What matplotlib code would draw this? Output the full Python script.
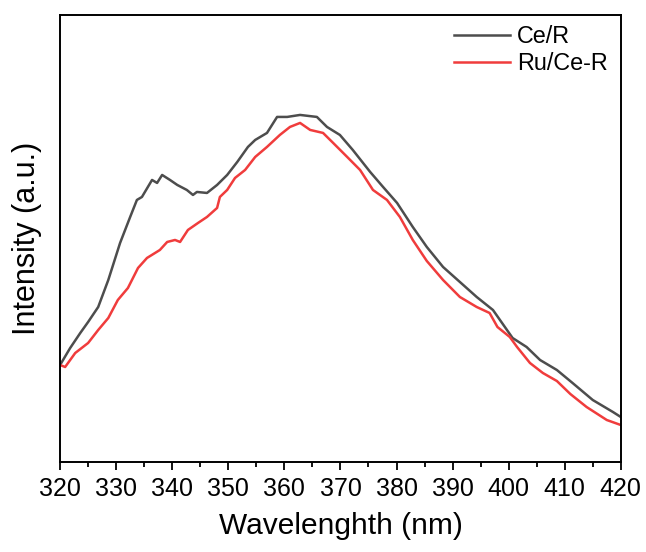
import numpy as np
import matplotlib.pyplot as plt
from matplotlib.ticker import MultipleLocator

plt.rcParams['font.family'] = ['Liberation Sans', 'DejaVu Sans']

# Ce/R emission curve (arbitrary units)
wl_ce = [320.0, 321.8, 323.6, 325.0, 326.8, 328.6, 330.7, 332.5, 333.7, 334.6,
         336.4, 337.3, 338.2, 339.6, 340.9, 342.6, 343.7, 344.4, 346.2, 348.0,
         349.8, 351.6, 353.5, 354.8, 356.9, 358.7, 360.5, 362.8, 365.8, 367.6,
         369.9, 372.2, 375.3, 377.6, 380.1, 382.9, 385.4, 388.3, 391.3, 394.3,
         397.2, 399.7, 400.7, 403.2, 405.6, 408.6, 411.4, 415.0, 418.6, 420.0]
int_ce = [97, 114, 129, 140, 155, 182, 219, 245, 262, 265,
          282, 279, 287, 282, 277, 272, 267, 270, 269, 277,
          287, 300, 315, 322, 329, 345, 345, 347, 345, 335,
          327, 312, 290, 275, 259, 235, 215, 195, 180, 165,
          152, 132, 124, 115, 102, 92, 79, 62, 50, 45]

# Ru/Ce-R emission curve
wl_ru = [320.0, 320.9, 322.7, 325.0, 326.8, 328.6, 330.3, 332.1, 333.9, 335.5,
         337.8, 339.1, 340.5, 341.4, 342.8, 344.6, 346.2, 348.0, 348.5, 349.8,
         351.2, 353.0, 354.8, 356.9, 359.2, 361.0, 362.8, 364.6, 366.9, 368.7,
         371.2, 373.5, 375.8, 378.3, 380.6, 382.9, 385.4, 388.3, 391.3, 394.3,
         396.6, 398.0, 400.2, 401.5, 403.8, 406.1, 408.6, 411.0, 413.9, 417.5,
         420.0]
int_ru = [97, 95, 109, 119, 132, 144, 162, 174, 194, 204,
          212, 220, 222, 220, 232, 239, 245, 254, 265, 272,
          284, 292, 305, 315, 327, 335, 339, 332, 329, 319,
          305, 292, 272, 262, 245, 222, 201, 182, 165, 155,
          149, 135, 125, 115, 99, 89, 81, 68, 55, 42,
          37]

fig = plt.figure(figsize=(6.46, 5.52), dpi=100)
ax = fig.add_axes([0.093, 0.163, 0.868, 0.81])

ax.plot(wl_ce, int_ce, color='#4d4d4d', lw=1.8, label='Ce/R')
ax.plot(wl_ru, int_ru, color='#f03c3c', lw=1.8, label='Ru/Ce-R')

ax.set_xlim(320, 420)
ax.set_ylim(0, 447)
ax.xaxis.set_major_locator(MultipleLocator(10))
ax.xaxis.set_minor_locator(MultipleLocator(5))
ax.tick_params(axis='x', which='major', direction='out', length=6, width=1.3,
               labelsize=18, pad=5)
ax.tick_params(axis='x', which='minor', direction='out', length=3.5, width=1.3)
ax.set_yticks([])
for s in ax.spines.values():
    s.set_linewidth(1.4)

ax.set_xlabel('Wavelenghth (nm)', fontsize=21.5, labelpad=8)
ax.set_ylabel('Intensity (a.u.)', fontsize=22, labelpad=13)

ax.legend(loc='upper right', frameon=False, fontsize=16.8, handlelength=2.4,
          handletextpad=0.3, labelspacing=0.15, borderaxespad=0.05,
          bbox_to_anchor=(0.995, 1.0))

fig.savefig('out.png', dpi=100)
